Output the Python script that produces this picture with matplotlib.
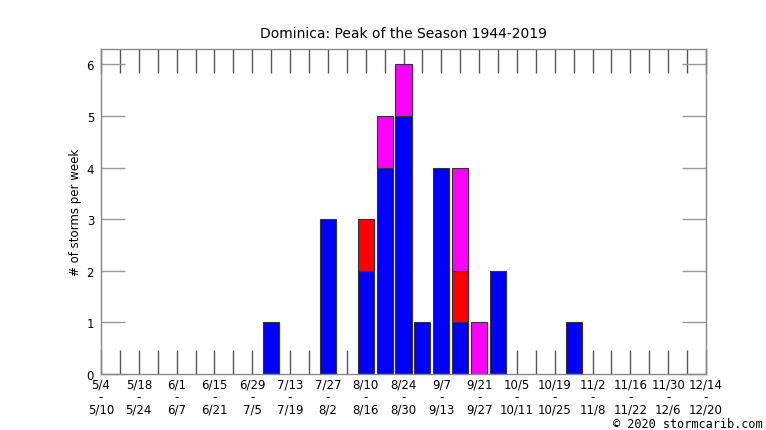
import matplotlib
matplotlib.use('Agg')
import matplotlib.pyplot as plt
import numpy as np

plt.rc('font', family='DejaVu Sans', size=8.5)

# week start / end labels (33 weeks, 5/4 .. 12/14)
week_start = ['5/4', '5/11', '5/18', '5/25', '6/1', '6/8', '6/15', '6/22', '6/29',
              '7/6', '7/13', '7/20', '7/27', '8/3', '8/10', '8/17', '8/24', '8/31',
              '9/7', '9/14', '9/21', '9/28', '10/5', '10/12', '10/19', '10/26',
              '11/2', '11/9', '11/16', '11/23', '11/30', '12/7', '12/14']
week_end = ['5/10', '5/17', '5/24', '5/31', '6/7', '6/14', '6/21', '6/28', '7/5',
            '7/12', '7/19', '7/26', '8/2', '8/9', '8/16', '8/23', '8/30', '9/6',
            '9/13', '9/20', '9/27', '10/4', '10/11', '10/18', '10/25', '11/1',
            '11/8', '11/15', '11/22', '11/29', '12/6', '12/13', '12/20']

blue = [0, 0, 0, 0, 0, 0, 0, 0, 0, 1, 0, 0, 3, 0, 2, 4, 5, 1, 4, 1, 0, 2,
        0, 0, 0, 1, 0, 0, 0, 0, 0, 0, 0]
red = [0, 0, 0, 0, 0, 0, 0, 0, 0, 0, 0, 0, 0, 0, 1, 0, 0, 0, 0, 1, 0, 0,
       0, 0, 0, 0, 0, 0, 0, 0, 0, 0, 0]
magenta = [0, 0, 0, 0, 0, 0, 0, 0, 0, 0, 0, 0, 0, 0, 0, 1, 1, 0, 0, 2, 1, 0,
           0, 0, 0, 0, 0, 0, 0, 0, 0, 0, 0]

x = np.arange(len(week_start))
blue = np.array(blue)
red = np.array(red)
magenta = np.array(magenta)

fig = plt.figure(figsize=(7.66, 4.31), dpi=100)
ax = fig.add_axes([101/766, 1-375/431, 605/766, 325/431])

w = 0.85
ec = '#333333'
m = blue > 0
ax.bar(x[m], blue[m], w, color='#0000ff', edgecolor=ec, linewidth=0.8, zorder=2)
m = red > 0
ax.bar(x[m], red[m], w, bottom=blue[m], color='#ff0000', edgecolor=ec, linewidth=0.8, zorder=2)
m = magenta > 0
ax.bar(x[m], magenta[m], w, bottom=(blue + red)[m], color='#ff00ff', edgecolor=ec, linewidth=0.8, zorder=2)

ax.set_xlim(0, 32)
ax.set_ylim(0, 6.3)

ax.set_xticks(x)
ax.set_xticklabels([s + '\n-\n' + e if i % 2 == 0 else '' for i, (s, e) in enumerate(zip(week_start, week_end))],
                   linespacing=0.95)
ax.set_yticks(range(7))
ax.tick_params(axis='x', direction='in', length=17, width=1, color='#555555',
               top=True, bottom=True, pad=2.5)
ax.tick_params(axis='y', direction='in', length=17, width=1, color='#999999',
               left=True, right=True, pad=5)
for t in ax.xaxis.get_ticklines():
    t.set_zorder(5)

for s in ax.spines.values():
    s.set_color('#888888')
    s.set_linewidth(1)

ax.set_ylabel('# of storms per week', fontsize=8.5, labelpad=3)
ax.set_title('Dominica: Peak of the Season 1944-2019', fontsize=10, pad=9)

fig.text(0.995, -0.001, '\u00a9 2020 stormcarib.com', ha='right', va='bottom',
         family='DejaVu Sans Mono', fontsize=8.6)

fig.savefig('out.png', dpi=100)
